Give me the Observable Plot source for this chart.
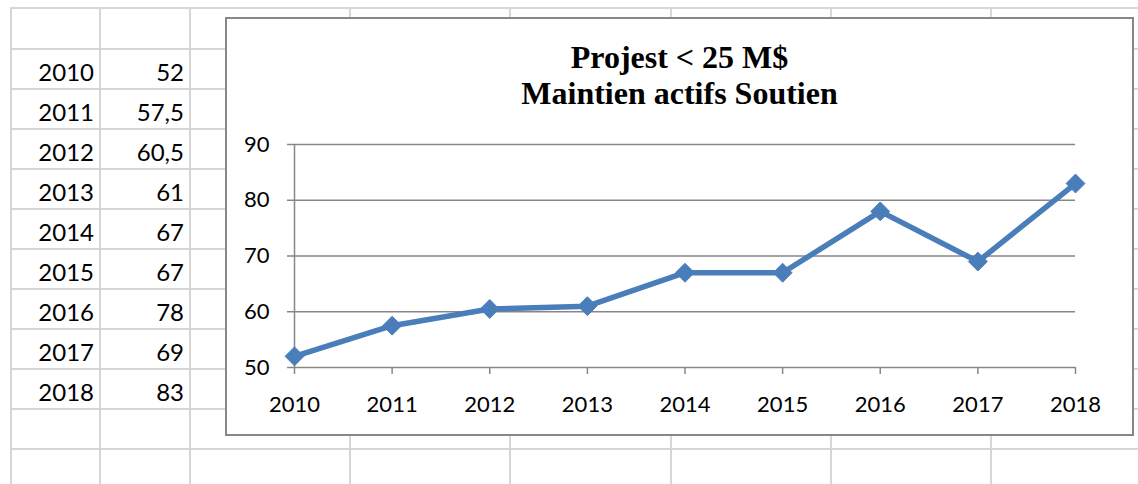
<!DOCTYPE html>
<html><head><meta charset="utf-8">
<script src="https://cdn.jsdelivr.net/npm/d3@7"></script>
<script src="https://cdn.jsdelivr.net/npm/@observablehq/plot@0.6"></script>
<style>
html,body{margin:0;padding:0;background:#fff;overflow:hidden;width:1138px;height:484px;}
#page{position:relative;width:1138px;height:484px;overflow:hidden;background:#fff;}
.gl{position:absolute;background:#d6d6d6;}
.cell{position:absolute;font-family:Lato,"Open Sans",sans-serif;font-size:24px;line-height:24px;color:#000;text-align:right;white-space:nowrap;}
#box{position:absolute;left:225px;top:17px;width:905px;height:415px;border:2px solid #878787;background:#fff;}
.title{position:absolute;left:225px;width:909px;top:39px;text-align:center;font-family:"Liberation Serif","Times New Roman",serif;font-weight:bold;font-size:32px;line-height:36px;color:#000;}
#plot{position:absolute;left:228px;top:120px;}
</style></head><body><div id="page"></div>
<script>
// ---- data ----
const years = [2010, 2011, 2012, 2013, 2014, 2015, 2016, 2017, 2018];
const values = [52, 57.5, 60.5, 61, 67, 67, 78, 69, 83];
const yTicks = [50, 60, 70, 80, 90];
const titleLines = ["Projest < 25 M$", "Maintien actifs Soutien"];

// ---- spreadsheet background ----
const page = document.getElementById("page");
const colX = [11, 100, 190, 350, 510, 671, 831, 991, 1151];
const rowY = [8, 49, 89, 129, 169, 209, 249, 289, 329, 369, 409, 449, 489];
for (const x of colX) {
  const d = document.createElement("div");
  d.className = "gl";
  Object.assign(d.style, {left: (x - 1) + "px", top: "7px", width: "2px", height: "480px"});
  page.appendChild(d);
}
for (const y of rowY) {
  const d = document.createElement("div");
  d.className = "gl";
  Object.assign(d.style, {left: "10px", top: (y - 1) + "px", width: "1140px", height: "2px"});
  page.appendChild(d);
}
const fmt = v => String(v).replace(".", ",");
years.forEach((yr, i) => {
  const top = rowY[i + 1] + 11;
  const a = document.createElement("div");
  a.className = "cell";
  Object.assign(a.style, {left: "11px", width: "83px", top: top + "px"});
  a.textContent = yr;
  page.appendChild(a);
  const b = document.createElement("div");
  b.className = "cell";
  Object.assign(b.style, {left: "100px", width: "84px", top: top + "px"});
  b.textContent = fmt(values[i]);
  page.appendChild(b);
});

// ---- chart box ----
const box = document.createElement("div");
box.id = "box";
page.appendChild(box);
const title = document.createElement("div");
title.className = "title";
title.innerHTML = titleLines.map(t => t.replace(/&/g,"&amp;").replace(/</g,"&lt;")).join("<br>");
page.appendChild(title);

const data = years.map((year, i) => ({year, value: values[i]}));
const blue = "#4a7ebb";
const axisGray = "#878787";

const chart = Plot.plot({
  width: 900,
  height: 312,
  marginLeft: 66,
  marginRight: 53,
  marginTop: 24,
  marginBottom: 65,
  style: {fontFamily: "Lato, 'Open Sans', sans-serif", fontSize: "22px", color: "#000", background: "transparent", overflow: "visible"},
  x: {type: "linear", domain: [years[0], years[years.length - 1]]},
  y: {domain: [yTicks[0], yTicks[yTicks.length - 1]]},
  marks: [
    Plot.gridY(yTicks, {stroke: axisGray, strokeOpacity: 1, strokeWidth: 1.5}),
    Plot.ruleX([years[0]], {y1: yTicks[0], y2: yTicks[yTicks.length - 1], stroke: axisGray, strokeWidth: 1.5}),
    Plot.axisY(yTicks, {tickSize: 7, tickPadding: 18, stroke: axisGray, strokeWidth: 1.5, color: "#000", label: null}),
    Plot.axisX(years, {tickSize: 7, tickPadding: 22, stroke: axisGray, strokeWidth: 1.5, color: "#000", label: null, tickFormat: d => String(d)}),
    Plot.line(data, {x: "year", y: "value", stroke: blue, strokeWidth: 5.5, strokeLinejoin: "round"}),
    Plot.dot(data, {x: "year", y: "value", symbol: "diamond2", r: 8.5, fill: blue, stroke: blue, strokeWidth: 1})
  ]
});
chart.id = "plot";
page.appendChild(chart);
</script>
</body></html>
